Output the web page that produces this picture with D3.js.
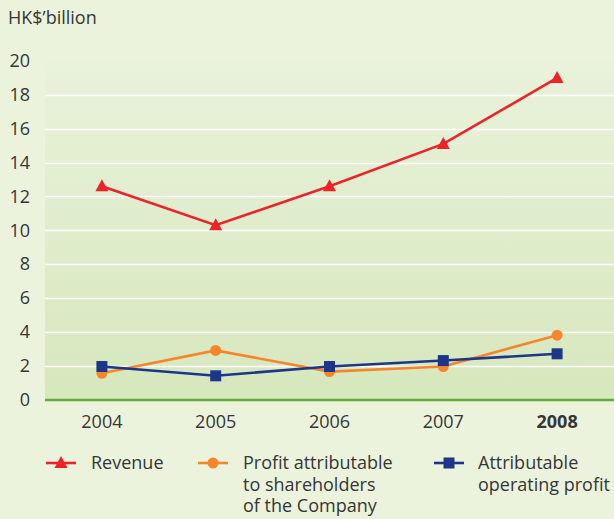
<!DOCTYPE html>
<html>
<head>
<meta charset="utf-8">
<script src="https://cdn.jsdelivr.net/npm/d3@7"></script>
<style>
  html, body { margin: 0; padding: 0; background: #ebf3dc; }
  svg { display: block; }
  text { font-family: "Open Sans", "Noto Sans", sans-serif; fill: #363636; }
</style>
</head>
<body>
<svg id="chart" width="614" height="519"></svg>
<script>
// Five-year financial highlights, HK$ billion
const years = ["2004", "2005", "2006", "2007", "2008"];
const revenue = [12.6, 10.3, 12.6, 15.1, 19.0];
const profitShareholders = [1.55, 2.9, 1.65, 1.95, 3.8];
const operatingProfit = [1.95, 1.4, 1.95, 2.3, 2.7];
const yTicks = [0, 2, 4, 6, 8, 10, 12, 14, 16, 18, 20];

const series = [
  { name: ["Revenue"], values: revenue, color: "#ee2229", marker: "triangle" },
  { name: ["Profit attributable", "to shareholders", "of the Company"], values: profitShareholders, color: "#f7862b", marker: "circle" },
  { name: ["Attributable", "operating profit"], values: operatingProfit, color: "#1d3687", marker: "square" }
];

const svg = d3.select("#chart");
const W = 614, H = 519;
const FS = 18;
const plot = { left: 45, right: 614, top: 61, bottom: 399.5 };

const x = d3.scaleBand().domain(years).range([plot.left, plot.right]);
const y = d3.scaleLinear().domain([0, 20]).range([plot.bottom, plot.top]);

// page background
svg.append("rect").attr("width", W).attr("height", H).attr("fill", "#ebf3dc");

// plot area gradient
const defs = svg.append("defs");
const grad = defs.append("linearGradient").attr("id", "plotBg")
  .attr("x1", 0).attr("y1", 0).attr("x2", 0).attr("y2", 1);
grad.append("stop").attr("offset", "0%").attr("stop-color", "#e9f2da");
grad.append("stop").attr("offset", "100%").attr("stop-color", "#d6e7bd");

svg.append("rect")
  .attr("x", plot.left).attr("y", plot.top)
  .attr("width", plot.right - plot.left).attr("height", plot.bottom - plot.top)
  .attr("fill", "url(#plotBg)");

// horizontal gridlines
svg.append("g").selectAll("line")
  .data(yTicks.filter(d => d > 0 && d < 20))
  .join("line")
  .attr("x1", plot.left).attr("x2", plot.right)
  .attr("y1", d => Math.round(y(d)) + 0.5).attr("y2", d => Math.round(y(d)) + 0.5)
  .attr("stroke", "#ffffff").attr("stroke-width", 1.4);

// baseline
svg.append("line")
  .attr("x1", plot.left).attr("x2", plot.right)
  .attr("y1", y(0) + 0.5).attr("y2", y(0) + 0.5)
  .attr("stroke", "#66a83a").attr("stroke-width", 2.6);

// y axis labels
const yAxis = d3.axisLeft(y).tickValues(yTicks).tickSize(0).tickPadding(0).tickFormat(d3.format("d"));
const gy = svg.append("g").attr("transform", "translate(30,0)").call(yAxis);
gy.select(".domain").remove();
gy.selectAll("text")
  .attr("font-size", FS).attr("fill", "#363636")
  .attr("font-family", "'Open Sans', 'Noto Sans', sans-serif");

// x axis labels
const xAxis = d3.axisBottom(x).tickSize(0).tickPadding(0);
const gx = svg.append("g").attr("transform", "translate(0,415)").call(xAxis);
gx.select(".domain").remove();
gx.selectAll("text")
  .attr("font-size", FS).attr("fill", "#363636")
  .attr("font-family", "'Open Sans', 'Noto Sans', sans-serif")
  .attr("font-weight", d => d === "2008" ? "bold" : "normal");

// unit label
svg.append("text").attr("x", 8).attr("y", 24).attr("font-size", FS).text("HK$’billion");

// marker drawing
function drawMarker(g, type, color, cx, cy) {
  if (type === "triangle") {
    g.append("path")
      .attr("d", `M${cx},${cy - 7} L${cx + 6.5},${cy + 5} L${cx - 6.5},${cy + 5} Z`)
      .attr("fill", color);
  } else if (type === "circle") {
    g.append("circle").attr("cx", cx).attr("cy", cy).attr("r", 5.5).attr("fill", color);
  } else {
    g.append("rect").attr("x", cx - 5.5).attr("y", cy - 5.5)
      .attr("width", 11).attr("height", 11).attr("fill", color);
  }
}

const line = d3.line().x((d, i) => x(years[i]) + x.bandwidth() / 2).y(d => y(d));

const order = [1, 2, 0];
order.forEach(si => {
  const s = series[si];
  const g = svg.append("g");
  g.append("path").datum(s.values)
    .attr("d", line).attr("fill", "none")
    .attr("stroke", s.color).attr("stroke-width", 2.6);
  s.values.forEach((v, i) => drawMarker(g, s.marker, s.color, x(years[i]) + x.bandwidth() / 2, y(v)));
});

// legend
const legendX = [46, 198, 434];
const legendTextX = [91, 243, 478];
series.forEach((s, i) => {
  const g = svg.append("g");
  const ly = 463;
  g.append("line").attr("x1", legendX[i]).attr("x2", legendX[i] + 30)
    .attr("y1", ly).attr("y2", ly).attr("stroke", s.color).attr("stroke-width", 2.6);
  drawMarker(g, s.marker, s.color, legendX[i] + 15, ly);
  s.name.forEach((t, j) => {
    g.append("text").attr("x", legendTextX[i]).attr("y", 469 + j * 21.7)
      .attr("font-size", FS).text(t);
  });
});
</script>
</body>
</html>
